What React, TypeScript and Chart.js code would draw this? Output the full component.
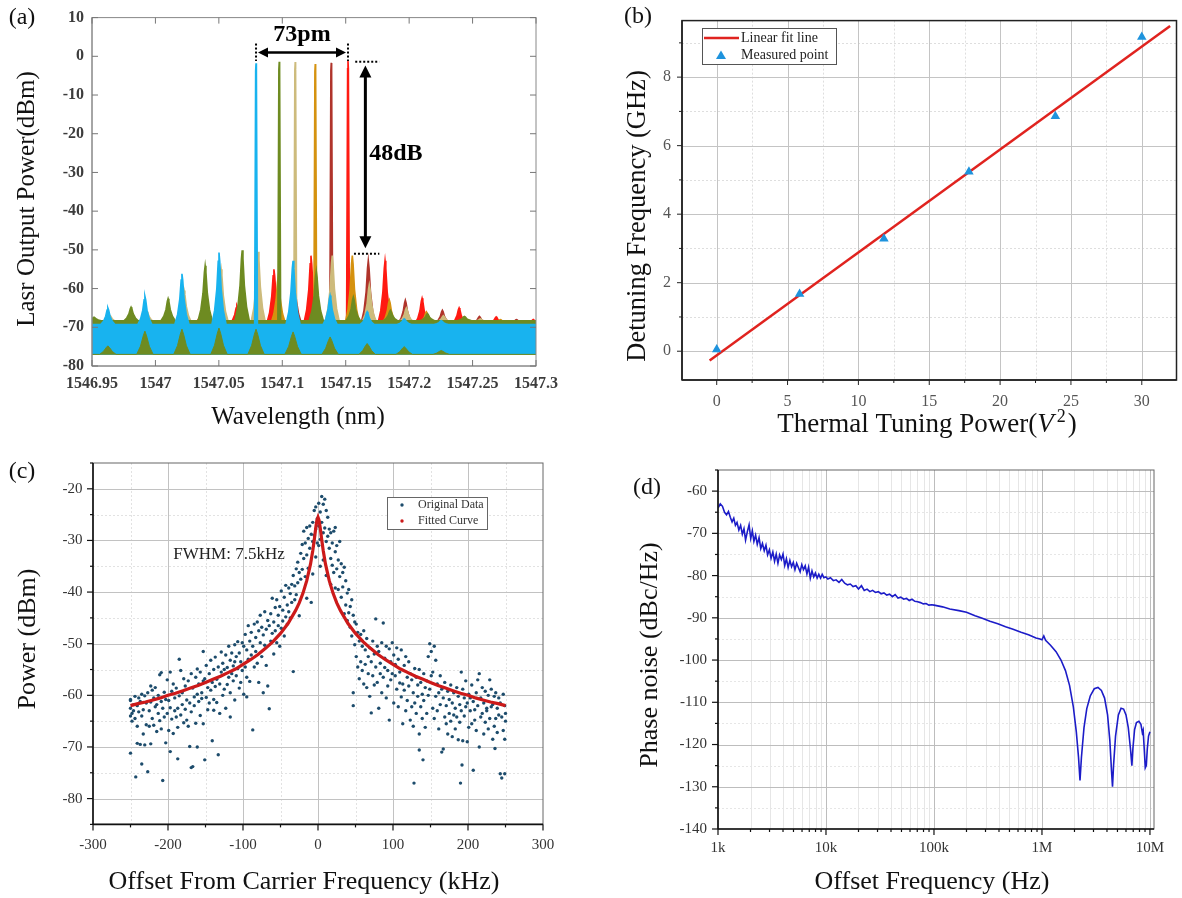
import React, { useEffect, useRef } from 'react';
import { Chart, registerables } from 'chart.js';

Chart.register(...registerables);

const PAGE_W = 1182;
const PAGE_H = 898;
const SERIF = "'Liberation Serif', 'Times New Roman', 'DejaVu Serif', serif";
const AXIS_H = 40;

// ================= Panel (a): multi-wavelength spectra =================
const wlTicks = [1546.95, 1547, 1547.05, 1547.1, 1547.15, 1547.2, 1547.25, 1547.3];
const wlTickLabels = ['1546.95', '1547', '1547.05', '1547.1', '1547.15', '1547.2', '1547.25', '1547.3'];
const powerTicksA = [-80, -70, -60, -50, -40, -30, -20, -10, 0, 10];
const modeSpacingNm = 0.0292;
const laserColors = ['#18b3ef', '#6e8b21', '#cdbb7c', '#d5920f', '#b0342b', '#ff1a12'];
const mainPeakWl = [1547.0793, 1547.0976, 1547.1102, 1547.126, 1547.1386, 1547.1518];
const mainPeakDb = [-1.8, -1.4, -1.5, -2.0, -1.7, -1.2];
const noiseFloorDb = [-69.3, -68.3, -68.6, -68.9, -68.9, -69.0];
const sideOrders = [-5, -4, -3, -2, -1, 1, 2, 3, 4, 5];
const sideDbCyan = [null, -65, -62, -56.2, -50.7, -52.8, -61.8, -66, -67.8, -68.3];
const sideDbOlive = [-67.4, -64.8, -62.6, -54.1, -50.1, -55.5, -62.2, -65.6, -66.5, -67.2];
const sideDbKhaki = [-67, -66, -60.5, -55, -50.5, -51.5, -59, -65, -67, -67.8];
const sideDbOrange = [-68, -67, -64, -60.5, -57, -51.5, -63, -66, -67.5, -68];
const sideDbBrown = [null, null, -66, -63, -57, -52.8, -63, -65.6, -67.2, -68];
const sideDbRed = [null, -67.5, -64.5, -55, -51.5, -52.8, -62.5, -65, -67.3, -68];
const sideDbAll = [sideDbCyan, sideDbOlive, sideDbKhaki, sideDbOrange, sideDbBrown, sideDbRed];
const bottomBumpOrders = [-4, -3, -2, -1, 0, 1, 2, 3, 4, 5];
const bottomBumpDb = [-74.8, -71, -70.5, -70.2, -70.5, -71.2, -72.5, -74.2, -75, -76];
const bandBottomDb = -77;

const SIDE_PROFILE = [[-0.0056, 0], [-0.0034, 0.2], [-0.0017, 0.5], [-0.0006, 0.88], [0, 1], [0.0006, 0.88], [0.0017, 0.5], [0.0034, 0.2], [0.0056, 0]];
const MAIN_PROFILE = [[-0.0011, 0], [-0.0003, 0.97], [0, 1], [0.0003, 0.97], [0.0011, 0]];
const BUMP_PROFILE = [[-0.0065, 0], [-0.0035, 0.35], [-0.0013, 0.8], [0, 1], [0.0013, 0.8], [0.0035, 0.35], [0.0065, 0]];

// ================= Panel (b): thermal tuning =================
const tuningPower = [0, 5.85, 11.8, 17.8, 23.9, 30];
const detuningGHz = [0.05, 1.67, 3.28, 5.24, 6.86, 9.17];
const fitLineX = [-0.5, 32];
const fitLineY = [-0.27, 9.49];

// ================= Panel (c): linewidth =================
const scatterLeft: number[][] = [
  [-250, -61, -62.5, -64, -71.2, -60.8], [-248, -63.5, -65], [-246, -61.8, -63], [-244, -60.2, -64.5], [-243, -75.8],
  [-241, -62, -66, -69.3], [-239, -60.5, -63.2], [-237, -69.5, -61.2], [-235, -73.3, -59.8, -64], [-233, -62.8, -67.5],
  [-231, -69.6, -60.1], [-229, -61.5, -65.7], [-227, -74.8, -59.5], [-225, -63, -66], [-223, -58.2, -61.3, -69.4],
  [-221, -59, -64.5], [-219, -60.5, -65.8], [-217, -58.5, -62.2], [-215, -61.8, -67], [-213, -63.5, -60],
  [-211, -56, -64.9], [-209, -55.6, -61.2, -66.5], [-207, -76.5, -62.5], [-205, -59.4, -64.2], [-203, -60.8, -69.2],
  [-201, -63.5, -57], [-199, -66.8, -61], [-197, -55.5, -62.4, -70.9], [-195, -59.2, -64.6], [-193, -57.8, -67.4],
  [-191, -60.5, -63], [-189, -64.2, -58.6], [-187, -62.5, -66.2, -72.3], [-185, -53, -60.1], [-183, -55.2, -63.8],
  [-181, -59.5, -61.8], [-179, -56.8, -65.3], [-177, -58.2, -62.7], [-175, -60.9, -64.8], [-173, -57.2, -66],
  [-171, -61.5, -69.9], [-169, -55.8, -63.2, -74], [-167, -58.6, -73.8], [-165, -60.3, -62], [-163, -56.5, -65.4],
  [-161, -54.9, -59.8, -70], [-159, -57.8, -61.2], [-157, -55.5, -63.9], [-155, -59.5, -60.6], [-153, -51.5, -57.2, -65.5],
  [-151, -56.8, -72.5], [-149, -54.2, -60.4], [-147, -58.5, -62.8], [-145, -55.8, -61.5], [-143, -53.2, -59],
  [-141, -57.5, -68.8], [-139, -55, -60.8, -62.9], [-137, -52.6, -58.3], [-135, -56.9, -61.4], [-133, -54.5, -71.5],
  [-131, -57.8, -63.5], [-129, -51.6, -55.5], [-127, -53.8, -60], [-125, -55, -58.8], [-123, -52.2, -62.5],
  [-121, -54.6, -57.9], [-119, -50.5, -56.5], [-117, -53.2, -59.5, -64.2], [-115, -51.8, -55.8], [-113, -54.3, -57.2],
  [-111, -50.2, -53.5, -60.9], [-109, -52.5, -56.2], [-107, -49.6, -54.8], [-105, -51.8, -58.6], [-103, -53.5, -57.5],
  [-101, -49.8, -55.2], [-99, -50.5, -59.8], [-97, -48.2, -54.5], [-95, -51.2, -56.5, -60.3], [-93, -46.5, -53],
  [-91, -49.5, -57.3], [-89, -47.8, -52.2], [-87, -50.5, -66.7], [-85, -46.2, -54.5], [-83, -48.8, -51.5],
  [-81, -45.8, -53.8], [-79, -47.5, -57.5], [-77, -44.5, -49.8], [-75, -46.8, -52.5], [-73, -48.3, -59.5],
  [-71, -43.8, -50.3], [-69, -47.2, -54.2], [-67, -45.5, -58.2], [-65, -46.5, -62.6], [-63, -44.2, -49.5],
  [-61, -41.2, -48], [-59, -45.8, -52], [-57, -43, -47.5], [-55, -41.5, -49.8], [-53, -44.5, -46.5],
  [-51, -42.8, -50.5], [-49, -39.8, -47], [-47, -43.5, -45.6], [-45, -41, -48.5], [-43, -38.7, -44.8],
  [-41, -42.5, -46.2], [-39, -39.2, -43.8], [-37, -40.3, -45], [-35, -38.5, -42], [-33, -36.8, -55.4],
  [-31, -38.8, -41.5], [-29, -35.5, -40.5], [-27, -34.2, -38.2], [-25, -36.2, -44.6], [-23, -32.5, -37.5],
  [-21, -30.8, -35.6], [-19, -28.2, -33.5], [-17, -30.5, -37], [-15, -27.5, -32.8, -41.2], [-13, -29.6, -35.4],
  [-11, -27.2, -31.5], [-9, -28.8, -42], [-7, -26.5, -30.2, -36.5], [-5, -24.2, -29], [-3, -23.5, -27.8, -33.2],
  [-1, -25.8, -30.5],
];
const scatterRight: number[][] = [
  [1, -22.8, -27.2, -31], [3, -24.5, -29.8, -35], [5, -21.5, -26.5], [7, -23, -28.5, -33.8], [9, -22, -27.6],
  [11, -24.2, -30.2, -36.8], [13, -25.5, -29.2], [15, -27.8, -31.5], [17, -28.5, -33.5, -38.5], [19, -30.5, -34.8],
  [21, -28.2, -36.2], [23, -27.5, -32.2, -39.2], [25, -31, -35.5], [27, -33.8, -39.5], [29, -30.2, -37],
  [31, -34.5, -41], [33, -36.2, -39], [35, -35.2, -44.2], [37, -37.8, -42.5], [39, -40.2, -45.5],
  [41, -39.5, -44], [43, -42.8, -46.8], [45, -41.5, -48.5], [47, -44.5, -62, -59.5], [49, -45.8, -50.2],
  [51, -46.2, -52.5], [53, -47.8, -54.5], [55, -49.5, -56.8], [57, -48.2, -53.5], [59, -50.5, -55.2],
  [61, -47.5, -57.8], [63, -51.2, -54], [65, -49, -58.5], [67, -52.5, -55.8], [69, -50.8, -60.2],
  [71, -53.5, -63.4], [73, -49.5, -56.2], [75, -52, -58], [77, -45.2, -54.5], [79, -50.5, -57.5],
  [81, -51.5, -62.5], [83, -53.8, -55.8], [85, -49.8, -59.5], [87, -46, -56.5], [89, -52.8, -54.6],
  [91, -50.5, -60.5], [93, -55.2, -58.2], [95, -51, -64.8], [97, -53.5, -57], [99, -49.8, -55.8],
  [101, -52.2, -61.5], [103, -56.2, -54], [105, -50.8, -58.8], [107, -53, -62.2], [109, -55.5, -57.6],
  [111, -51.2, -60.3], [113, -57.8, -65.5], [115, -54.2, -59], [117, -52.5, -63], [119, -56.5, -61],
  [121, -53.5, -58.2], [123, -55.8, -64.8], [125, -57, -62.2], [127, -59.5, -66], [128, -77],
  [129, -54.8, -61.5], [131, -56.5, -63.5], [133, -60.2, -58], [135, -55, -70.6, -67.5], [137, -57.5, -62.2],
  [139, -59.8, -64.5], [140, -72.5], [141, -55.8, -61], [143, -58.5, -66.2], [145, -57.2, -63.5],
  [147, -52.5, -60], [149, -50, -58.8], [151, -51.5, -56.2], [153, -55.5, -62.5], [155, -50.5, -64.5],
  [157, -53.2, -60.2], [159, -57.8, -63], [161, -59.5, -66.5], [163, -56.2, -61.8], [165, -58.8, -71],
  [167, -60.5, -70.4], [169, -57.5, -64.2], [171, -62, -65.5], [173, -59.2, -67.5], [175, -60.8, -63.5],
  [177, -58, -65], [179, -61.5, -68], [181, -59.5, -63.8], [183, -62.5, -66.5], [185, -58.5, -64.2],
  [187, -60.2, -68.6], [189, -61.8, -65.2], [190, -77], [191, -55.5, -63], [192, -73.5],
  [193, -58.8, -68.8], [195, -60.5, -64], [197, -57.2, -62.2], [199, -61.5, -69], [201, -59.8, -66.2],
  [203, -63, -60.5], [205, -58, -65.5], [207, -61.2, -74.5], [209, -62.8, -64.8], [211, -59.5, -66.8],
  [213, -57, -62], [215, -55.8, -70], [217, -60.5, -64.2], [219, -63.5, -58.5], [221, -61.5, -67.5],
  [223, -59.2, -65.2], [225, -62.5, -63], [227, -60, -66.5], [229, -57, -64.5], [231, -58.8, -62.2],
  [233, -61.8, -68.5], [235, -60.2, -66], [236, -70.3], [237, -59.5, -64.5], [239, -62.5, -67.2],
  [241, -60.5, -63.8], [243, -75.2, -61.5], [245, -76, -64.2], [247, -59.8, -66.8], [249, -62, -75.2, -68.5],
  [250, -63.5, -65],
];
const fitX = [-250, -240, -230, -220, -210, -200, -190, -180, -170, -160, -150, -140, -130, -120, -110, -100, -90, -80, -70, -60, -50, -40, -30, -25, -20, -15, -10, -7, -5, -3, -1.5, 0,
  1.5, 3, 5, 7, 10, 15, 20, 25, 30, 40, 50, 60, 70, 80, 90, 100, 110, 120, 130, 140, 150, 160, 170, 180, 190, 200, 210, 220, 230, 240, 250];
const fitY = [-62.0, -61.6, -61.3, -60.9, -60.5, -60.0, -59.6, -59.1, -58.6, -58.1, -57.5, -56.9, -56.3, -55.6, -54.9, -54.0, -53.1, -52.1, -50.9, -49.6, -48.0, -46.1, -43.6, -42.1, -40.2, -37.8, -34.6, -32.0, -29.9, -27.6, -26.1, -25.5,
  -26.1, -27.6, -29.9, -32.0, -34.6, -37.8, -40.2, -42.1, -43.6, -46.1, -48.0, -49.6, -50.9, -52.1, -53.1, -54.0, -54.9, -55.6, -56.3, -56.9, -57.5, -58.1, -58.6, -59.1, -59.6, -60.0, -60.5, -60.9, -61.3, -61.6, -62.0];

// ================= Panel (d): phase noise =================
const decadeTicks = [1e3, 1e4, 1e5, 1e6, 1e7];
const decadeLabels = ['1k', '10k', '100k', '1M', '10M'];
const phaseNoiseTrace: number[][] = [
  [1000, -64.0], [1050, -63.0], [1100, -63.6], [1150, -65.0], [1200, -65.6], [1250, -64.8], [1300, -66.2], [1350, -67.3],
  [1400, -66.4], [1450, -68.1], [1500, -67.4], [1560, -69.2], [1620, -68.1], [1680, -70.2], [1740, -68.9], [1800, -71.6],
  [1870, -69.6], [1940, -68.0], [2010, -71.2], [2080, -69.4], [2150, -71.9], [2230, -70.4], [2310, -72.6], [2400, -71.0],
  [2490, -73.6], [2580, -72.4], [2680, -74.1], [2780, -72.8], [2880, -75.1], [2990, -73.9], [3100, -75.9], [3220, -74.4],
  [3340, -76.6], [3460, -74.9], [3590, -77.1], [3720, -75.1], [3860, -76.2], [4000, -74.9], [4150, -77.6], [4300, -76.0],
  [4460, -78.1], [4630, -76.4], [4800, -77.9], [4980, -76.9], [5160, -78.6], [5350, -77.1], [5550, -78.1], [5760, -79.1],
  [5970, -77.4], [6190, -78.6], [6420, -77.7], [6660, -79.6], [6900, -78.0], [7160, -80.6], [7420, -78.9], [7700, -80.3],
  [7980, -79.4], [8280, -80.6], [8580, -79.7], [8900, -80.6], [9230, -79.7], [9570, -80.5], [10000, -80.3],
  [10400, -80.8], [11000, -80.5], [11700, -81.2], [12400, -81.0], [13200, -81.6], [14000, -80.9], [14900, -81.8], [15800, -82.2],
  [16800, -82.0], [17800, -82.6], [18900, -82.4], [20000, -83.2], [21300, -82.4], [22600, -83.5], [24000, -83.2], [25500, -83.8],
  [27000, -83.5], [28700, -84.0], [30500, -83.8], [32400, -84.3], [34400, -84.1], [36500, -84.6], [38800, -84.4], [41200, -85.0],
  [43700, -84.5], [46400, -85.3], [49300, -85.1], [52300, -85.6], [55500, -85.4], [59000, -85.9], [62600, -85.6], [66500, -86.1],
  [70600, -86.2], [75000, -86.4], [79600, -86.7], [84500, -86.6], [89700, -87.0], [95300, -86.9], [100000, -87.0],
  [120000, -87.4], [140000, -87.9], [170000, -88.3], [200000, -88.7], [240000, -89.5], [280000, -90.1], [330000, -90.8],
  [390000, -91.4], [460000, -92.1], [540000, -92.7], [640000, -93.4], [750000, -94.0], [880000, -94.8], [960000, -95.0],
  [1000000, -95.2], [1040000, -94.3], [1080000, -95.3], [1200000, -96.5], [1350000, -98.0], [1500000, -100.0],
  [1650000, -102.5], [1800000, -106.0], [1950000, -111.0], [2080000, -117.0], [2180000, -123.0], [2250000, -128.5],
  [2320000, -123.0], [2450000, -116.0], [2600000, -111.5], [2800000, -108.5], [3050000, -106.8], [3300000, -106.5],
  [3550000, -107.2], [3800000, -109.0], [4050000, -113.0], [4250000, -119.0], [4400000, -126.0], [4500000, -130.0],
  [4600000, -125.0], [4800000, -118.0], [5100000, -113.0], [5400000, -111.4], [5700000, -111.6], [6000000, -113.0],
  [6300000, -116.0], [6600000, -121.0], [6800000, -125.0], [6950000, -121.0], [7200000, -116.5], [7500000, -114.8],
  [7900000, -114.5], [8250000, -115.2], [8500000, -117.2], [8650000, -116.6], [8850000, -121.0], [9050000, -125.5],
  [9250000, -125.0], [9450000, -121.0], [9700000, -118.0], [10000000, -117.0],
];

// ================= helpers =================
function seg(ctx: any, x1: number, y1: number, x2: number, y2: number) {
  ctx.beginPath();
  ctx.moveTo(x1, y1);
  ctx.lineTo(x2, y2);
  ctx.stroke();
}

function drawText(ctx: any, t: any) {
  ctx.save();
  ctx.fillStyle = t.color || '#111';
  ctx.font = `${t.italic ? 'italic ' : ''}${t.bold ? 'bold ' : ''}${t.size}px ${SERIF}`;
  ctx.textAlign = t.align || 'center';
  ctx.textBaseline = 'middle';
  ctx.translate(t.x, t.y);
  if (t.rotate) ctx.rotate(-Math.PI / 2);
  ctx.fillText(t.text, 0, 0);
  ctx.restore();
}

function arrowHead(ctx: any, x: number, y: number, dx: number, dy: number, len: number, half: number) {
  const n = Math.hypot(dx, dy);
  const ux = dx / n, uy = dy / n;
  ctx.beginPath();
  ctx.moveTo(x, y);
  ctx.lineTo(x - ux * len - uy * half, y - uy * len + ux * half);
  ctx.lineTo(x - ux * len + uy * half, y - uy * len - ux * half);
  ctx.closePath();
  ctx.fill();
}

function doubleArrow(ctx: any, x1: number, y1: number, x2: number, y2: number, w: number, len: number, half: number) {
  ctx.save();
  ctx.strokeStyle = '#000';
  ctx.fillStyle = '#000';
  ctx.lineWidth = w;
  const n = Math.hypot(x2 - x1, y2 - y1);
  const ux = (x2 - x1) / n, uy = (y2 - y1) / n;
  seg(ctx, x1 + ux * len * 0.8, y1 + uy * len * 0.8, x2 - ux * len * 0.8, y2 - uy * len * 0.8);
  arrowHead(ctx, x2, y2, ux, uy, len, half);
  arrowHead(ctx, x1, y1, -ux, -uy, len, half);
  ctx.restore();
}

function decorPlugin(id: string, spec: any) {
  return {
    id,
    beforeDatasetsDraw(chart: any) {
      if (!spec.grid) return;
      const { ctx, chartArea: a, scales } = chart;
      const sx = scales.x, sy = scales.y;
      ctx.save();
      ctx.lineWidth = 1;
      const vLine = (v: number) => {
        const p = Math.round(sx.getPixelForValue(v)) + 0.5;
        if (p > a.left + 1 && p < a.right - 1) seg(ctx, p, a.top, p, a.bottom);
      };
      const hLine = (v: number) => {
        const p = Math.round(sy.getPixelForValue(v)) + 0.5;
        if (p > a.top + 1 && p < a.bottom - 1) seg(ctx, a.left, p, a.right, p);
      };
      ctx.strokeStyle = spec.grid.minor;
      ctx.setLineDash(spec.grid.minorDashX || []);
      spec.minorX.forEach(vLine);
      ctx.setLineDash(spec.grid.minorDashY || []);
      spec.minorY.forEach(hLine);
      ctx.setLineDash([]);
      ctx.strokeStyle = spec.grid.major;
      spec.majorX.forEach(vLine);
      spec.majorY.forEach(hLine);
      ctx.restore();
    },
    afterDraw(chart: any) {
      const { ctx, chartArea: a, scales } = chart;
      const sx = scales.x, sy = scales.y;
      ctx.save();
      ctx.strokeStyle = spec.frame.color;
      ctx.lineWidth = spec.frame.width;
      ctx.strokeRect(a.left, a.top, a.right - a.left, a.bottom - a.top);
      ctx.strokeStyle = spec.frame.axis;
      ctx.lineWidth = spec.frame.axisWidth;
      seg(ctx, a.left, a.top, a.left, a.bottom);
      seg(ctx, a.left, a.bottom, a.right, a.bottom);
      const tk = spec.ticks;
      ctx.strokeStyle = tk.color;
      ctx.lineWidth = tk.width;
      const xt = (vals: number[], len: number) => vals.forEach((v) => {
        const p = sx.getPixelForValue(v);
        if (p < a.left - 0.5 || p > a.right + 0.5) return;
        const d = tk.inward ? -len : len;
        seg(ctx, p, a.bottom, p, a.bottom + d);
        if (tk.mirror) seg(ctx, p, a.top, p, a.top - d);
      });
      const yt = (vals: number[], len: number) => vals.forEach((v) => {
        const p = sy.getPixelForValue(v);
        if (p < a.top - 0.5 || p > a.bottom + 0.5) return;
        const d = tk.inward ? len : -len;
        seg(ctx, a.left, p, a.left + d, p);
        if (tk.mirror) seg(ctx, a.right, p, a.right - d, p);
      });
      xt(spec.majorX, tk.major);
      xt(spec.minorX, tk.minor);
      yt(spec.majorY, tk.major);
      yt(spec.minorY, tk.minor);
      ctx.restore();
      spec.texts.forEach((t: any) => drawText(ctx, t));
      if (spec.extra) spec.extra(chart);
    },
  };
}

function baseOptions(rect: number[], padLeft: number, xs: any, ys: any) {
  const [L, T, R, B] = rect;
  return {
    responsive: false,
    animation: false,
    devicePixelRatio: 1,
    events: [],
    layout: { padding: { left: padLeft, top: T, right: PAGE_W - R, bottom: PAGE_H - B - AXIS_H } },
    plugins: { legend: { display: false }, tooltip: { enabled: false }, title: { display: false } },
    scales: {
      x: {
        ...xs,
        grid: { display: false, drawTicks: false },
        border: { display: false },
        afterFit: (s: any) => { s.height = AXIS_H; },
      },
      y: {
        ...ys,
        grid: { display: false, drawTicks: false },
        border: { display: false },
        afterFit: (s: any) => { s.width = L - padLeft; },
      },
    },
  };
}

function tickSetter(vals: number[]) {
  return (s: any) => { s.ticks = vals.map((v) => ({ value: v })); };
}

// ================= chart configs =================
function spectrumPoints(peaks: any[], base: number) {
  const pts: any[] = [{ x: 1546.94, y: base }];
  peaks.sort((p, q) => p.x - q.x).forEach((p) => {
    p.profile.forEach(([dx, f]: number[]) => pts.push({ x: p.x + dx, y: base + (p.y - base) * f }));
  });
  pts.push({ x: 1547.31, y: base });
  return pts;
}

function makeA() {
  const laserSets = laserColors.map((color, i) => {
    const peaks: any[] = [{ x: mainPeakWl[i], y: mainPeakDb[i], profile: MAIN_PROFILE }];
    sideOrders.forEach((k, j) => {
      const h = sideDbAll[i][j];
      if (h !== null && h !== undefined) peaks.push({ x: mainPeakWl[i] + k * modeSpacingNm, y: h, profile: SIDE_PROFILE });
    });
    return {
      data: spectrumPoints(peaks, noiseFloorDb[i]),
      borderColor: color,
      backgroundColor: color,
      borderWidth: 1.6,
      pointRadius: 0,
      tension: 0,
      fill: { value: bandBottomDb },
    };
  });
  const bumps = {
    data: spectrumPoints(bottomBumpOrders.map((k, j) => ({ x: mainPeakWl[0] + k * modeSpacingNm, y: bottomBumpDb[j], profile: BUMP_PROFILE })), bandBottomDb),
    borderColor: laserColors[1],
    backgroundColor: laserColors[1],
    borderWidth: 1,
    pointRadius: 0,
    tension: 0,
    fill: { value: bandBottomDb },
  };
  const rect = [92, 15, 536, 366];
  const tickFont = { family: SERIF, size: 16, weight: 'bold' };
  const opts: any = baseOptions(rect, 0,
    { type: 'linear', min: 1546.95, max: 1547.3, afterBuildTicks: tickSetter(wlTicks),
      ticks: { font: tickFont, color: '#3c3c3c', padding: 8, maxRotation: 0, autoSkip: false, callback: (_v: any, i: number) => wlTickLabels[i] } },
    { type: 'linear', min: -80, max: 10, afterBuildTicks: tickSetter(powerTicksA),
      ticks: { font: tickFont, color: '#3c3c3c', padding: 8, callback: (v: any) => String(v) } });
  const plugin = decorPlugin('decorA', {
    majorX: wlTicks, minorX: [], majorY: powerTicksA, minorY: [],
    grid: null,
    ticks: { inward: true, mirror: true, major: 6, minor: 3, color: '#777', width: 1 },
    frame: { color: '#888', width: 1, axis: '#888', axisWidth: 1 },
    texts: [
      { text: '(a)', x: 22, y: 18, size: 24 },
      { text: 'Lasr Output Power(dBm)', x: 27, y: 199, size: 25, rotate: true },
      { text: 'Wavelength (nm)', x: 298, y: 417, size: 25 },
    ],
    extra: (chart: any) => {
      const { ctx, scales } = chart;
      const sx = scales.x, sy = scales.y;
      const xl = sx.getPixelForValue(mainPeakWl[0]);
      const xr = sx.getPixelForValue(mainPeakWl[5]);
      ctx.save();
      ctx.strokeStyle = '#000';
      ctx.lineWidth = 2;
      ctx.setLineDash([2, 2]);
      seg(ctx, xl, sy.getPixelForValue(3.3), xl, sy.getPixelForValue(-1.2));
      seg(ctx, xr, sy.getPixelForValue(3.3), xr, sy.getPixelForValue(-1.2));
      seg(ctx, sx.getPixelForValue(1547.1575), sy.getPixelForValue(-1.4), sx.getPixelForValue(1547.1765), sy.getPixelForValue(-1.4));
      seg(ctx, sx.getPixelForValue(1547.1565), sy.getPixelForValue(-51), sx.getPixelForValue(1547.1765), sy.getPixelForValue(-51));
      ctx.restore();
      doubleArrow(ctx, xl + 2, sy.getPixelForValue(1.0), xr - 2, sy.getPixelForValue(1.0), 2.5, 10, 5);
      const xa = sx.getPixelForValue(1547.1655);
      doubleArrow(ctx, xa, sy.getPixelForValue(-2.4), xa, sy.getPixelForValue(-49.6), 3, 12, 6);
      drawText(ctx, { text: '73pm', x: (xl + xr) / 2, y: sy.getPixelForValue(5.5), size: 24, bold: true, color: '#000' });
      drawText(ctx, { text: '48dB', x: sx.getPixelForValue(1547.1685), y: sy.getPixelForValue(-25.3), size: 24, bold: true, align: 'left', color: '#000' });
    },
  });
  return {
    type: 'line',
    data: { datasets: [bumps, ...laserSets] },
    options: opts,
    plugins: [plugin],
  };
}

function makeB() {
  const rect = [682, 17, 1179, 380];
  const tickFont = { family: SERIF, size: 16 };
  const opts: any = baseOptions(rect, 600,
    { type: 'linear', min: -2.45, max: 32.45, afterBuildTicks: tickSetter([0, 5, 10, 15, 20, 25, 30]),
      ticks: { font: tickFont, color: '#555', padding: 12, maxRotation: 0, autoSkip: false } },
    { type: 'linear', min: -0.84, max: 9.65, afterBuildTicks: tickSetter([0, 2, 4, 6, 8]),
      ticks: { font: tickFont, color: '#555', padding: 11 } });
  const plugin = decorPlugin('decorB', {
    majorX: [0, 5, 10, 15, 20, 25, 30], minorX: [2.5, 7.5, 12.5, 17.5, 22.5, 27.5],
    majorY: [0, 2, 4, 6, 8], minorY: [1, 3, 5, 7, 9],
    grid: { major: '#c4c4c4', minor: '#dedede', minorDashX: [2, 2], minorDashY: [2, 2] },
    ticks: { inward: false, mirror: false, major: 5, minor: 3, color: '#222', width: 1 },
    frame: { color: '#222', width: 1.5, axis: '#222', axisWidth: 1.5 },
    texts: [
      { text: '(b)', x: 638, y: 17, size: 24 },
      { text: 'Detuning Frequency (GHz)', x: 638, y: 216, size: 26.5, rotate: true },
    ],
    extra: (chart: any) => {
      const { ctx } = chart;
      ctx.save();
      const f1 = `27px ${SERIF}`;
      const f2 = `italic 27px ${SERIF}`;
      const f3 = `18px ${SERIF}`;
      ctx.font = f1; const w1 = ctx.measureText('Thermal Tuning Power(').width; const w4 = ctx.measureText(')').width;
      ctx.font = f2; const w2 = ctx.measureText('V').width + 3;
      ctx.font = f3; const w3 = ctx.measureText('2').width + 2;
      let x = 927 - (w1 + w2 + w3 + w4) / 2;
      const y = 425;
      ctx.fillStyle = '#111';
      ctx.textBaseline = 'middle';
      ctx.textAlign = 'left';
      ctx.font = f1; ctx.fillText('Thermal Tuning Power(', x, y); x += w1;
      ctx.font = f2; ctx.fillText('V', x, y); x += w2;
      ctx.font = f3; ctx.fillText('2', x, y - 8); x += w3;
      ctx.font = f1; ctx.fillText(')', x, y);
      ctx.fillStyle = '#fff';
      ctx.fillRect(702, 28, 134, 36);
      ctx.strokeStyle = '#555';
      ctx.lineWidth = 1;
      ctx.strokeRect(702.5, 28.5, 134, 36);
      ctx.strokeStyle = '#e0231f';
      ctx.lineWidth = 2.5;
      seg(ctx, 704, 38, 739, 38);
      ctx.fillStyle = '#1e93dd';
      ctx.beginPath();
      ctx.moveTo(721, 50.5); ctx.lineTo(726, 59); ctx.lineTo(716, 59); ctx.closePath(); ctx.fill();
      ctx.fillStyle = '#222';
      ctx.font = `14px ${SERIF}`;
      ctx.fillText('Linear fit line', 741, 38);
      ctx.fillText('Measured point', 741, 55);
      ctx.restore();
    },
  });
  return {
    type: 'line',
    data: {
      datasets: [
        {
          data: tuningPower.map((x, i) => ({ x, y: detuningGHz[i] })),
          showLine: false,
          pointStyle: 'triangle',
          pointRadius: 5.5,
          pointBackgroundColor: '#1e93dd',
          pointBorderColor: '#1e93dd',
          pointBorderWidth: 0,
        },
        {
          data: fitLineX.map((x, i) => ({ x, y: fitLineY[i] })),
          borderColor: '#e0231f',
          borderWidth: 2.5,
          pointRadius: 0,
          tension: 0,
        },
      ],
    },
    options: opts,
    plugins: [plugin],
  };
}

function makeC() {
  const rect = [93, 463, 543, 824.4];
  const tickFont = { family: SERIF, size: 15 };
  const points: any[] = [];
  [...scatterLeft, ...scatterRight].forEach((g) => g.slice(1).forEach((y) => points.push({ x: g[0], y })));
  const opts: any = baseOptions(rect, 0,
    { type: 'linear', min: -300, max: 300, afterBuildTicks: tickSetter([-300, -200, -100, 0, 100, 200, 300]),
      ticks: { font: tickFont, color: '#333', padding: 12, maxRotation: 0, autoSkip: false } },
    { type: 'linear', min: -85, max: -15, afterBuildTicks: tickSetter([-80, -70, -60, -50, -40, -30, -20]),
      ticks: { font: tickFont, color: '#333', padding: 10.5 } });
  const plugin = decorPlugin('decorC', {
    majorX: [-300, -200, -100, 0, 100, 200, 300], minorX: [-250, -150, -50, 50, 150, 250],
    majorY: [-80, -70, -60, -50, -40, -30, -20], minorY: [-85, -75, -65, -55, -45, -35, -25, -15],
    grid: { major: '#c2c2c2', minor: '#e2e2e2', minorDashX: [2, 2], minorDashY: [2, 2] },
    ticks: { inward: false, mirror: false, major: 6, minor: 3, color: '#111', width: 1.2 },
    frame: { color: '#666', width: 1, axis: '#111', axisWidth: 1.6 },
    texts: [
      { text: '(c)', x: 22, y: 472, size: 24 },
      { text: 'Power (dBm)', x: 28, y: 639, size: 26, rotate: true },
      { text: 'Offset From Carrier Frequency (kHz)', x: 304, y: 882, size: 26 },
      { text: 'FWHM: 7.5kHz', x: 229, y: 555, size: 17, color: '#222' },
    ],
    extra: (chart: any) => {
      const { ctx } = chart;
      ctx.save();
      ctx.fillStyle = '#fff';
      ctx.fillRect(387, 497, 100, 32);
      ctx.strokeStyle = '#666';
      ctx.lineWidth = 1;
      ctx.strokeRect(387.5, 497.5, 100, 32);
      ctx.fillStyle = '#1d4c6c';
      ctx.beginPath(); ctx.arc(402, 505, 1.7, 0, Math.PI * 2); ctx.fill();
      ctx.fillStyle = '#cc1a1a';
      ctx.beginPath(); ctx.arc(402, 521, 1.7, 0, Math.PI * 2); ctx.fill();
      ctx.fillStyle = '#333';
      ctx.font = `12px ${SERIF}`;
      ctx.textAlign = 'left';
      ctx.textBaseline = 'middle';
      ctx.fillText('Original Data', 418, 505);
      ctx.fillText('Fitted Curve', 418, 521);
      ctx.restore();
    },
  });
  return {
    type: 'line',
    data: {
      datasets: [
        {
          data: fitX.map((x, i) => ({ x, y: fitY[i] })),
          borderColor: '#cc1a1a',
          borderWidth: 3.2,
          pointRadius: 0,
          tension: 0,
        },
        {
          data: points,
          showLine: false,
          pointRadius: 1.7,
          pointBorderWidth: 0,
          pointBackgroundColor: '#1d4c6c',
        },
      ],
    },
    options: opts,
    plugins: [plugin],
  };
}

function makeD() {
  const rect = [718, 470, 1154, 829];
  const tickFont = { family: SERIF, size: 15 };
  const minorX: number[] = [];
  [1e3, 1e4, 1e5, 1e6].forEach((d) => { for (let m = 2; m <= 9; m++) minorX.push(d * m); });
  const majorY = [-140, -130, -120, -110, -100, -90, -80, -70, -60];
  const minorY = [-135, -125, -115, -105, -95, -85, -75, -65, -55];
  const opts: any = baseOptions(rect, 600,
    { type: 'logarithmic', min: 1000, max: 1.09e7, afterBuildTicks: tickSetter(decadeTicks),
      ticks: { font: tickFont, color: '#333', padding: 10.5, maxRotation: 0, autoSkip: false, callback: (_v: any, i: number) => decadeLabels[i] } },
    { type: 'linear', min: -140, max: -55, afterBuildTicks: tickSetter(majorY),
      ticks: { font: tickFont, color: '#333', padding: 11 } });
  const plugin = decorPlugin('decorD', {
    majorX: decadeTicks, minorX, majorY, minorY,
    grid: { major: '#bdbdbd', minor: '#e6e6e6', minorDashX: [], minorDashY: [2, 2] },
    ticks: { inward: false, mirror: false, major: 6, minor: 3, color: '#111', width: 1.2 },
    frame: { color: '#666', width: 1, axis: '#111', axisWidth: 1.6 },
    texts: [
      { text: '(d)', x: 647, y: 488, size: 24 },
      { text: 'Phase noise (dBc/Hz)', x: 650, y: 655, size: 26, rotate: true },
      { text: 'Offset Frequency (Hz)', x: 932, y: 882, size: 26 },
    ],
  });
  return {
    type: 'line',
    data: {
      datasets: [
        {
          data: phaseNoiseTrace.map(([x, y]) => ({ x, y })),
          borderColor: '#1c1cc8',
          borderWidth: 1.6,
          pointRadius: 0,
          tension: 0,
        },
      ],
    },
    options: opts,
    plugins: [plugin],
  };
}

function ChartCanvas({ make }: { make: () => any }) {
  const ref = useRef<HTMLCanvasElement>(null);
  useEffect(() => {
    const chart = new Chart(ref.current as HTMLCanvasElement, make());
    return () => chart.destroy();
  }, [make]);
  return (
    <canvas
      ref={ref}
      width={PAGE_W}
      height={PAGE_H}
      style={{ position: 'absolute', left: 0, top: 0, width: PAGE_W, height: PAGE_H }}
    />
  );
}

export default function App() {
  return (
    <div style={{ position: 'fixed', left: 0, top: 0, width: PAGE_W, height: PAGE_H, background: '#fff', overflow: 'hidden' }}>
      <ChartCanvas make={makeA} />
      <ChartCanvas make={makeB} />
      <ChartCanvas make={makeC} />
      <ChartCanvas make={makeD} />
    </div>
  );
}
